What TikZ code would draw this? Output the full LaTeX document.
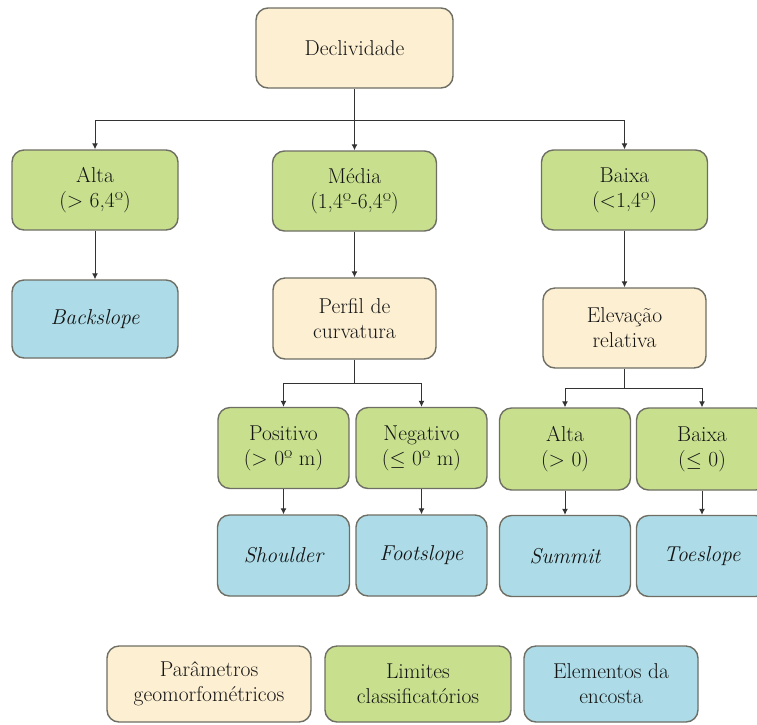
\documentclass[tikz,border=0pt]{standalone}
\usetikzlibrary{arrows.meta}
\definecolor{beige}{HTML}{FCEFD2}
\definecolor{lgreen}{HTML}{C8E08E}
\definecolor{lblue}{HTML}{ADDCE8}
\definecolor{bord}{HTML}{6E6E64}
\definecolor{txt}{HTML}{141414}
\begin{document}
\begin{tikzpicture}[x=1pt,y=-1pt,
  box/.style={draw=bord, line width=1.4pt, rounded corners=12pt, align=center,
    inner sep=0pt, font=\rmfamily\fontsize{21.5}{25}\selectfont, text=txt},
  pbox/.style={box, fill=beige},
  gbox/.style={box, fill=lgreen},
  bbox/.style={box, fill=lblue},
  conn/.style={draw=black!80, line width=1pt},
  arr/.style={conn, -{Latex[length=6pt,width=6pt]}}]
\useasboundingbox (0,0) rectangle (757,724);
\clip (0,0) rectangle (757,724);

% row 0
\node[pbox, minimum width=197pt, minimum height=80pt] (decl) at (354.5,48) {Declividade};
% row 1
\node[gbox, minimum width=166pt, minimum height=80pt] (alta) at (95,190) {Alta\\(> 6,4º)};
\node[gbox, minimum width=164pt, minimum height=80pt] (media) at (354.5,191) {Média\\(1,4º-6,4º)};
\node[gbox, minimum width=166pt, minimum height=80pt] (baixa) at (624.5,190) {Baixa\\(<1,4º)};
% row 2
\node[bbox, minimum width=166pt, minimum height=78pt] (back) at (95,319) {\itshape Backslope};
\node[pbox, minimum width=163pt, minimum height=81pt] (perfil) at (354.5,318.5) {Perfil de\\curvatura};
\node[pbox, minimum width=163pt, minimum height=80pt] (elev) at (624.5,328) {Elevação\\relativa};
% row 3
\node[gbox, minimum width=131pt, minimum height=81pt] (pos) at (283.5,448) {Positivo\\(> 0º m)};
\node[gbox, minimum width=131pt, minimum height=81pt] (neg) at (421.5,448) {Negativo\\($\leq$ 0º m)};
\node[gbox, minimum width=131pt, minimum height=82pt] (alta2) at (565,449) {Alta\\(> 0)};
\node[gbox, minimum width=131pt, minimum height=82pt] (baixa2) at (702,449) {Baixa\\($\leq$ 0)};
% row 4
\node[bbox, minimum width=132pt, minimum height=81pt] (shoulder) at (283.5,555.5) {\itshape Shoulder};
\node[bbox, minimum width=131pt, minimum height=81pt] (foot) at (421.5,555.5) {\itshape Footslope};
\node[bbox, minimum width=131pt, minimum height=81pt] (summit) at (565,556) {\itshape Summit};
\node[bbox, minimum width=131pt, minimum height=81pt] (toe) at (702,556) {\itshape Toeslope};
% legend
\node[pbox, minimum width=204pt, minimum height=76pt] (leg1) at (209,684) {Parâmetros\\geomorfométricos};
\node[gbox, minimum width=186pt, minimum height=76pt] (leg2) at (418,684) {Limites\\classificatórios};
\node[bbox, minimum width=174pt, minimum height=76pt] (leg3) at (611,684) {Elementos da\\encosta};

% connectors
\coordinate (j1) at (354.5,120);
\draw[conn] (decl.south) -- (j1);
\draw[arr] (j1) -| (alta.north);
\draw[arr] (j1) -- (media.north);
\draw[arr] (j1) -| (baixa.north);

\draw[arr] (alta.south) -- (back.north);
\draw[arr] (media.south) -- (perfil.north);
\draw[arr] (baixa.south) -- (elev.north);

\coordinate (j2) at (354.5,383);
\draw[conn] (perfil.south) -- (j2);
\draw[arr] (j2) -| (pos.north);
\draw[arr] (j2) -| (neg.north);

\coordinate (j3) at (624.5,388);
\draw[conn] (elev.south) -- (j3);
\draw[arr] (j3) -| (alta2.north);
\draw[arr] (j3) -| (baixa2.north);

\draw[arr] (pos.south) -- (shoulder.north);
\draw[arr] (neg.south) -- (foot.north);
\draw[arr] (alta2.south) -- (summit.north);
\draw[arr] (baixa2.south) -- (toe.north);
\end{tikzpicture}
\end{document}
